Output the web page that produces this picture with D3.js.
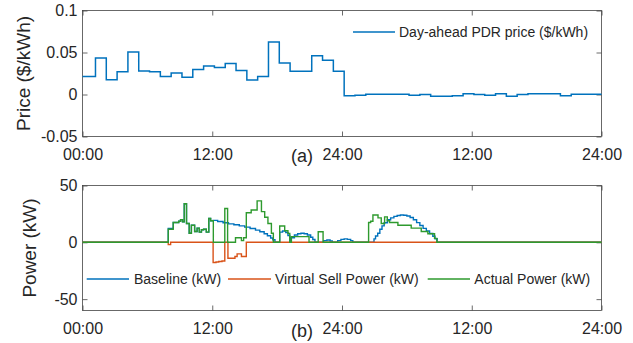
<!DOCTYPE html>
<html><head><meta charset="utf-8">
<script src="https://cdn.jsdelivr.net/npm/d3@7"></script>
<style>
body{margin:0;background:#fff}
svg{display:block}
text{font-family:"Liberation Sans",Arial,Helvetica,sans-serif;fill:#262626}
</style>
</head><body><svg id="c" width="633" height="343"></svg>
<script>
// ---------- data ----------
const hourTicks = [0, 12, 24, 36, 48];
const hourTickLabels = ["00:00", "12:00", "24:00", "12:00", "24:00"];
const priceTicks = [-0.05, 0, 0.05, 0.1];
const priceTickLabels = ["-0.05", "0", "0.05", "0.1"];
const powerTicks = [-50, 0, 50];
const powerTickLabels = ["-50", "0", "50"];

// hourly day-ahead PDR price ($/kWh), 48 hours
const priceHour = [0,1,2,3,4,5,6,7,8,9,10,11,12,13,14,15,16,17,18,19,20,21,22,23,
                   24,25,26,27,28,29,30,31,32,33,34,35,36,37,38,39,40,41,42,43,44,45,46,47];
const priceValue = [0.0215,0.0435,0.0175,0.027,0.0505,0.028,0.027,0.0215,0.0255,0.0205,0.0298,0.0338,
                    0.0322,0.0368,0.0286,0.0172,0.0215,0.0625,0.0376,0.0278,0.0278,0.046,0.0408,0.0278,
                    -0.0016,-0.0008,0.0004,0.0004,0.0004,0.0004,-0.0008,0,-0.002,-0.002,-0.0016,0.0008,
                    0,-0.0008,0.0008,-0.002,0,0.0008,0.0008,0.0008,-0.0016,0.0004,0.0004,0.0004];

// Baseline (kW): step series
const baselineT = [0,7.93,8.39,8.9,9.07,9.25,9.41,9.62,9.87,10.07,10.37,10.6,10.8,11.0,11.2,11.45,11.68,11.85,
  12.08,12.5,13.0,13.5,14.0,14.5,15.0,15.5,16.0,16.4,16.8,17.1,17.4,17.6,17.8,
  18.24,18.5,18.8,19.0,19.17,19.3,19.6,19.9,20.2,20.5,20.8,21.1,21.3,21.5,
  22.3,22.6,22.9,23.1,23.6,23.9,24.2,24.5,24.8,25.0,
  26.96,27.1,27.3,27.5,27.7,27.9,28.2,28.5,28.8,29.1,29.4,29.7,30.0,30.3,30.6,30.9,31.2,31.5,31.8,32.1,32.4,32.6,32.8,48];
const baselineV = [0,12.2,17.5,18.5,20,18,34,16.5,8,15,9.5,12.5,9,11,11.5,9,21,19,
  19.3,18.3,17.2,16.2,15.4,14.5,13.4,12.2,10.7,9.3,7.5,5.8,3.8,2.2,0,
  9,10,8.5,6,0,4,6.5,7.6,8,7.6,6.5,4.5,2.5,0,
  1.5,2,1.2,0,1.5,2.6,3,2.6,1.5,0,
  3,5.5,8,11.5,14.5,17.2,19.8,21.5,22.8,23.6,24,23.8,23.2,21.8,19.8,17.3,14.8,12.3,10,7.7,5.3,3.2,0,0];

// Virtual Sell Power (kW): step series
const sellT = [0,7.93,8.15,12.08,12.35,12.6,12.9,13.16,13.45,14.1,14.3,14.7,15.15,48];
const sellV = [0,-2,0,-17.8,-17.3,-16.9,-16.4,0,-14,-12.5,-10.2,-12.5,0,0];

// Actual Power (kW): step series
const actualT = [0,7.93,8.39,8.9,9.07,9.25,9.41,9.62,9.87,10.07,10.37,10.6,10.8,11.0,11.2,11.45,11.68,11.85,
  12.1,13.16,13.42,14.15,14.7,14.9,15.15,15.6,16.15,16.55,16.85,17.15,17.47,17.65,
  18.24,18.7,19.0,19.17,19.32,20.95,21.8,22.25,
  26.46,26.65,26.86,27.33,27.63,27.94,28.19,28.4,29.17,30.4,31.33,31.94,32.56,32.77,48];
const actualV = [0,11.5,17.5,18.5,20,18,34,16.5,8,15,9.5,12.5,9,11,11.5,9,21,19,
  0,29.7,0,4,1.5,4,26,28.5,36.5,27,22,16.5,8,0,
  14.3,10.2,7.9,0,5,0,9.3,0,
  17.5,18.5,24,21.5,16.6,22.4,19,17.5,15,12.5,9.5,7.5,3.5,0,0];

const priceLegend = "Day-ahead PDR price ($/kWh)";
const powerLegend = ["Baseline (kW)", "Virtual Sell Power (kW)", "Actual Power (kW)"];
const colors = ["#0072BD", "#D95319", "#2E9A2E"];

// ---------- drawing ----------
const svg = d3.select("#c");
const x = d3.scaleLinear().domain([0, 48]).range([82.5, 601.5]);
const yTop = d3.scaleLinear().domain([-0.05, 0.1]).range([136.5, 10.5]);
const yBot = d3.scaleLinear().domain([-60, 50]).range([310.5, 185.5]);
const stepOffset = 0.2;
const TICK = 16, AXLAB = 19, LEG = 14;

function frame(y, yTicks, yLabels) {
  const [x0, x1] = x.range();
  const [yb, yt] = y.range();
  const left = svg.append("g").attr("transform", `translate(${x0},0)`)
    .call(d3.axisLeft(y).tickValues(yTicks).tickFormat((d, i) => yLabels[i]).tickSizeInner(-5).tickSizeOuter(0).tickPadding(5));
  const right = svg.append("g").attr("transform", `translate(${x1},0)`)
    .call(d3.axisRight(y).tickValues(yTicks).tickFormat("").tickSizeInner(-5).tickSizeOuter(0));
  const bottom = svg.append("g").attr("transform", `translate(0,${yb})`)
    .call(d3.axisBottom(x).tickValues(hourTicks).tickFormat((d, i) => hourTickLabels[i]).tickSizeInner(-5).tickSizeOuter(0).tickPadding(12));
  const top = svg.append("g").attr("transform", `translate(0,${yt})`)
    .call(d3.axisTop(x).tickValues(hourTicks).tickFormat("").tickSizeInner(-5).tickSizeOuter(0));
  [left, right, bottom, top].forEach(g => {
    g.select(".domain").remove();
    g.selectAll(".tick line").attr("stroke", "#444").attr("stroke-width", 0.8);
    g.selectAll("text").attr("font-size", TICK).attr("font-family", null).style("fill", "#262626");
  });
  svg.append("rect").attr("x", x0).attr("y", yt).attr("width", x1 - x0).attr("height", yb - yt)
    .attr("fill", "none").attr("stroke", "#444").attr("stroke-width", 0.8);
}

// top panel
frame(yTop, priceTicks, priceTickLabels);
const priceLine = d3.line().curve(d3.curveStepAfter).x(d => x(d[0])).y(d => yTop(d[1]));
const pricePts = priceHour.map((h, i) => [i === 0 ? 0 : h + stepOffset, priceValue[i]]);
pricePts.push([48, priceValue[priceValue.length - 1]]);
svg.append("path").attr("d", priceLine(pricePts)).attr("fill", "none")
  .attr("stroke", colors[0]).attr("stroke-width", 1.5);

svg.append("line").attr("x1", 353).attr("x2", 395).attr("y1", 32).attr("y2", 32)
  .attr("stroke", colors[0]).attr("stroke-width", 1.5);
svg.append("text").attr("x", 399).attr("y", 37).attr("font-size", LEG).text(priceLegend);

svg.append("text").attr("transform", "translate(30,73.5) rotate(-90)").attr("text-anchor", "middle")
  .attr("font-size", AXLAB).text("Price ($/kWh)");
svg.append("text").attr("x", 302).attr("y", 162).attr("text-anchor", "middle").attr("font-size", 18).text("(a)");

// bottom panel
frame(yBot, powerTicks, powerTickLabels);
const pLine = d3.line().curve(d3.curveStepAfter).x(d => x(d[0])).y(d => yBot(d[1]));
[[baselineT, baselineV], [sellT, sellV], [actualT, actualV]].forEach(([T, V], k) => {
  svg.append("path").attr("d", pLine(T.map((t, i) => [t, V[i]]))).attr("fill", "none")
    .attr("stroke", colors[k]).attr("stroke-width", 1.4);
});

const legX = [[86.7, 129, 134], [228, 271, 275], [427.7, 470, 474.3]];
powerLegend.forEach((s, k) => {
  svg.append("line").attr("x1", legX[k][0]).attr("x2", legX[k][1]).attr("y1", 279).attr("y2", 279)
    .attr("stroke", colors[k]).attr("stroke-width", 1.5);
  svg.append("text").attr("x", legX[k][2]).attr("y", 284).attr("font-size", LEG).text(s);
});

svg.append("text").attr("transform", "translate(36,248) rotate(-90)").attr("text-anchor", "middle")
  .attr("font-size", AXLAB).text("Power (kW)");
svg.append("text").attr("x", 302).attr("y", 337).attr("text-anchor", "middle").attr("font-size", 18).text("(b)");
</script>
</body></html>
